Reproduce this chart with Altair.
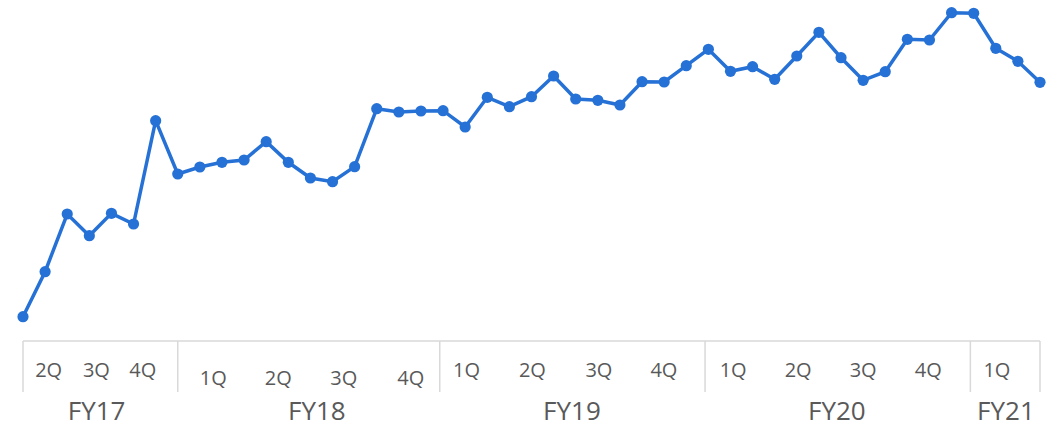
import altair as alt
import pandas as pd

# Monthly series, Sep 2017 .. Jul 2021 (47 months) (arbitrary units)
month_idx = list(range(47))
values = [83.3, 128.3, 186.0, 164.3, 186.7, 176.0, 279.3, 226.0, 233.0, 237.7,
          240.0, 258.3, 237.7, 222.0, 218.3, 233.3, 291.3, 288.0, 289.0, 289.3,
          273.0, 302.7, 293.3, 303.3, 324.0, 301.0, 299.7, 295.0, 318.3, 318.0,
          334.3, 350.7, 328.7, 333.3, 320.7, 344.0, 367.7, 342.3, 319.7, 328.3,
          360.7, 360.0, 387.3, 386.7, 351.7, 338.7, 317.7]

# Quarter labels (position in month-index units) and which fiscal year they belong to
quarter_labels = ["2Q", "3Q", "4Q",
                  "1Q", "2Q", "3Q", "4Q",
                  "1Q", "2Q", "3Q", "4Q",
                  "1Q", "2Q", "3Q", "4Q",
                  "1Q"]
quarter_pos = [1.16, 3.32, 5.42,
               8.61, 11.55, 14.51, 17.54,
               20.06, 23.04, 26.05, 28.99,
               32.12, 35.06, 38.0, 40.95,
               44.05]
quarter_fy = ["FY17"] * 3 + ["FY18"] * 4 + ["FY19"] * 4 + ["FY20"] * 4 + ["FY21"]

fy_labels = ["FY17", "FY18", "FY19", "FY20", "FY21"]
fy_pos = [3.33, 13.29, 24.83, 36.81, 44.46]
fy_bounds = [0, 7, 18.85, 30.85, 42.85, 46]

BLUE = "#2671D5"
GREY_TXT = "#595959"
GREY_LINE = "#D9D9D9"
FONT = "Open Sans"

series = pd.DataFrame({"idx": month_idx, "value": values})
qdf = pd.DataFrame({"pos": quarter_pos, "label": quarter_labels, "fy": quarter_fy})
fydf = pd.DataFrame({"pos": fy_pos, "label": fy_labels})
bdf = pd.DataFrame({"b": fy_bounds})
axdf = pd.DataFrame({"a": [fy_bounds[0]], "b": [fy_bounds[-1]]})

xs = alt.Scale(domain=[0, 46], nice=False, zero=False)
ys = alt.Scale(domain=[59, 400], nice=False, zero=False)

axis_line = alt.Chart(axdf).mark_rule(color=GREY_LINE, strokeWidth=1.5).encode(
    x=alt.X("a:Q", scale=xs, axis=None), x2="b:Q", y=alt.value(341)
)
separators = alt.Chart(bdf).mark_rule(color=GREY_LINE, strokeWidth=1.5).encode(
    x=alt.X("b:Q", scale=xs, axis=None), y=alt.value(341), y2=alt.value(392)
)

line = alt.Chart(series).mark_line(color=BLUE, strokeWidth=3.5).encode(
    x=alt.X("idx:Q", scale=xs, axis=None),
    y=alt.Y("value:Q", scale=ys, axis=None),
)
points = alt.Chart(series).mark_circle(color=BLUE, size=125, opacity=1).encode(
    x=alt.X("idx:Q", scale=xs, axis=None),
    y=alt.Y("value:Q", scale=ys, axis=None),
)

q_normal = alt.Chart(qdf).transform_filter(alt.datum.fy != "FY18").mark_text(
    font=FONT, fontSize=20, color=GREY_TXT, baseline="alphabetic", align="center"
).encode(x=alt.X("pos:Q", scale=xs, axis=None), y=alt.value(377), text="label:N")

q_low = alt.Chart(qdf).transform_filter(alt.datum.fy == "FY18").mark_text(
    font=FONT, fontSize=20, color=GREY_TXT, baseline="alphabetic", align="center"
).encode(x=alt.X("pos:Q", scale=xs, axis=None), y=alt.value(385), text="label:N")

fy_text = alt.Chart(fydf).mark_text(
    font=FONT, fontSize=26, color=GREY_TXT, baseline="alphabetic", align="center"
).encode(x=alt.X("pos:Q", scale=xs, axis=None), y=alt.value(420), text="label:N")

chart = alt.layer(
    axis_line, separators, line, points, q_normal, q_low, fy_text
).properties(
    width=1017, height=341,
    autosize=alt.AutoSizeParams(type="none"),
    padding={"left": 23, "top": 0, "right": 21, "bottom": 86},
    background="white",
).configure_view(stroke=None)

chart.save("out.html", embed_options={"renderer": "svg", "actions": False})
